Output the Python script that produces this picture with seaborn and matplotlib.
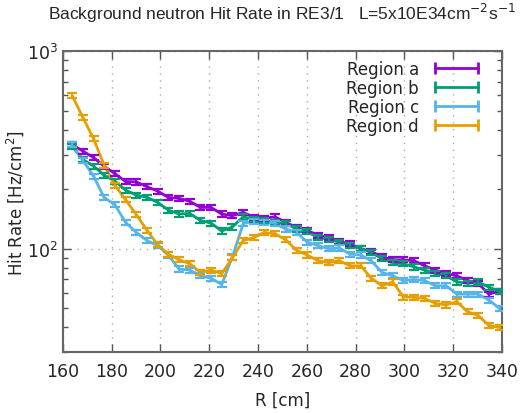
import numpy as np
import pandas as pd
import matplotlib
matplotlib.use('Agg')
import matplotlib.pyplot as plt
from matplotlib.lines import Line2D
import seaborn as sns

# bin centres along R [cm]
r_cm = [163.8, 168.2, 172.6, 176.9, 181.3, 185.7, 190.1, 194.5, 198.8, 203.2,
        207.6, 212.0, 216.4, 220.7, 225.1, 229.5, 233.9, 238.3, 242.6, 247.0,
        251.4, 255.8, 260.2, 264.5, 268.9, 273.3, 277.7, 282.1, 286.4, 290.8,
        295.2, 299.6, 304.0, 308.3, 312.7, 317.1, 321.5, 325.9, 330.2, 334.6,
        339.0]

# hit rates [Hz/cm^2] per region
region_a = [337, 312, 289, 262, 240, 219, 218, 206, 196, 182,
            180, 174, 162, 162, 150, 147, 153, 144, 143, 145,
            136, 128, 124, 117, 114, 109, 106, 100, 97, 91,
            88, 88, 87, 82, 78, 75, 73, 69, 67, 59, 61]
region_b = [330, 283, 262, 236, 220, 198, 187, 182, 172, 157,
            150, 151, 139, 135, 123, 129, 145, 141, 139, 136,
            134, 126, 122, 114, 112, 108, 104, 100, 96, 89,
            85, 84, 81, 78, 75, 73, 68, 67, 68, 64, 61]
region_c = [337, 280, 233, 182, 167, 136, 121, 110, 104, 93,
            79, 78, 73, 71, 66, 91, 134, 138, 136, 134,
            126, 121, 108, 104, 100, 101, 94, 93, 87, 76,
            73, 69, 70, 69, 65, 65, 59, 59, 59, 55, 50]
region_d = [596, 462, 360, 265, 210, 177, 149, 124, 105, 94,
            88, 84, 76, 78, 75, 90, 110, 114, 121, 119,
            111, 98, 93, 87, 85, 87, 82, 82, 71, 65,
            68, 57, 57, 56, 53, 52, 54, 48, 46, 41, 40]

labels = ['Region a', 'Region b', 'Region c', 'Region d']
colors = ['#9400d3', '#009e73', '#56b4e9', '#e69f00']
rel_err = 0.03

df = pd.concat([pd.DataFrame({'R': r_cm, 'rate': v, 'region': lab})
                for v, lab in zip([region_a, region_b, region_c, region_d], labels)])

sns.set_style('ticks')
plt.rcParams['font.family'] = ['DejaVu Sans']

fig = plt.figure(figsize=(5.24, 4.14), dpi=100)
ax = fig.add_axes([0.120, 0.147, 0.838, 0.727])

sns.lineplot(data=df, x='R', y='rate', hue='region', palette=colors,
             linewidth=2.0, legend=False, ax=ax, zorder=3)
for lab, col in zip(labels, colors):
    sub = df[df['region'] == lab]
    ax.errorbar(sub['R'], sub['rate'], yerr=sub['rate'] * rel_err, fmt='none',
                ecolor=col, elinewidth=1.6, capsize=3.5, capthick=1.6, zorder=3)

ax.set_yscale('log')
ax.set_xlim(160, 340)
ax.set_ylim(30, 1000)
ax.set_xticks(np.arange(160, 341, 20))

ax.grid(True, which='major', linestyle=(0, (1, 4)), color='#aaaaaa', linewidth=1.0)
ax.tick_params(which='both', direction='in', top=True, right=True, labelsize=12.5,
               color='#555555')
ax.tick_params(which='major', length=6, width=1)
ax.tick_params(which='minor', length=3.5, width=1)
ax.tick_params(axis='x', which='both', pad=7)
ax.tick_params(axis='x', which='minor', top=False, bottom=False)
for s in ax.spines.values():
    s.set_color('#666666')
    s.set_linewidth(1.5)

ax.set_xlabel('R [cm]', fontsize=12, labelpad=8)
ax.set_ylabel('Hit Rate [Hz/cm$^2$]', fontsize=12, labelpad=1)
ax.set_title('Background neutron Hit Rate in RE3/1   L=5x10E34cm$^{-2}$s$^{-1}$',
             fontsize=12.5, family='Liberation Sans', pad=23)

handles = [Line2D([0], [0], color=c, lw=2, marker='|', markersize=8, mew=2)
           for c in colors]
ax.legend(handles, labels, loc='upper right', bbox_to_anchor=(0.957, 0.97),
          frameon=False, markerfirst=False, numpoints=2, fontsize=12,
          handlelength=3.2, handletextpad=0.65, labelspacing=0.05,
          borderpad=0, borderaxespad=0)

fig.savefig('out.png', dpi=100)
